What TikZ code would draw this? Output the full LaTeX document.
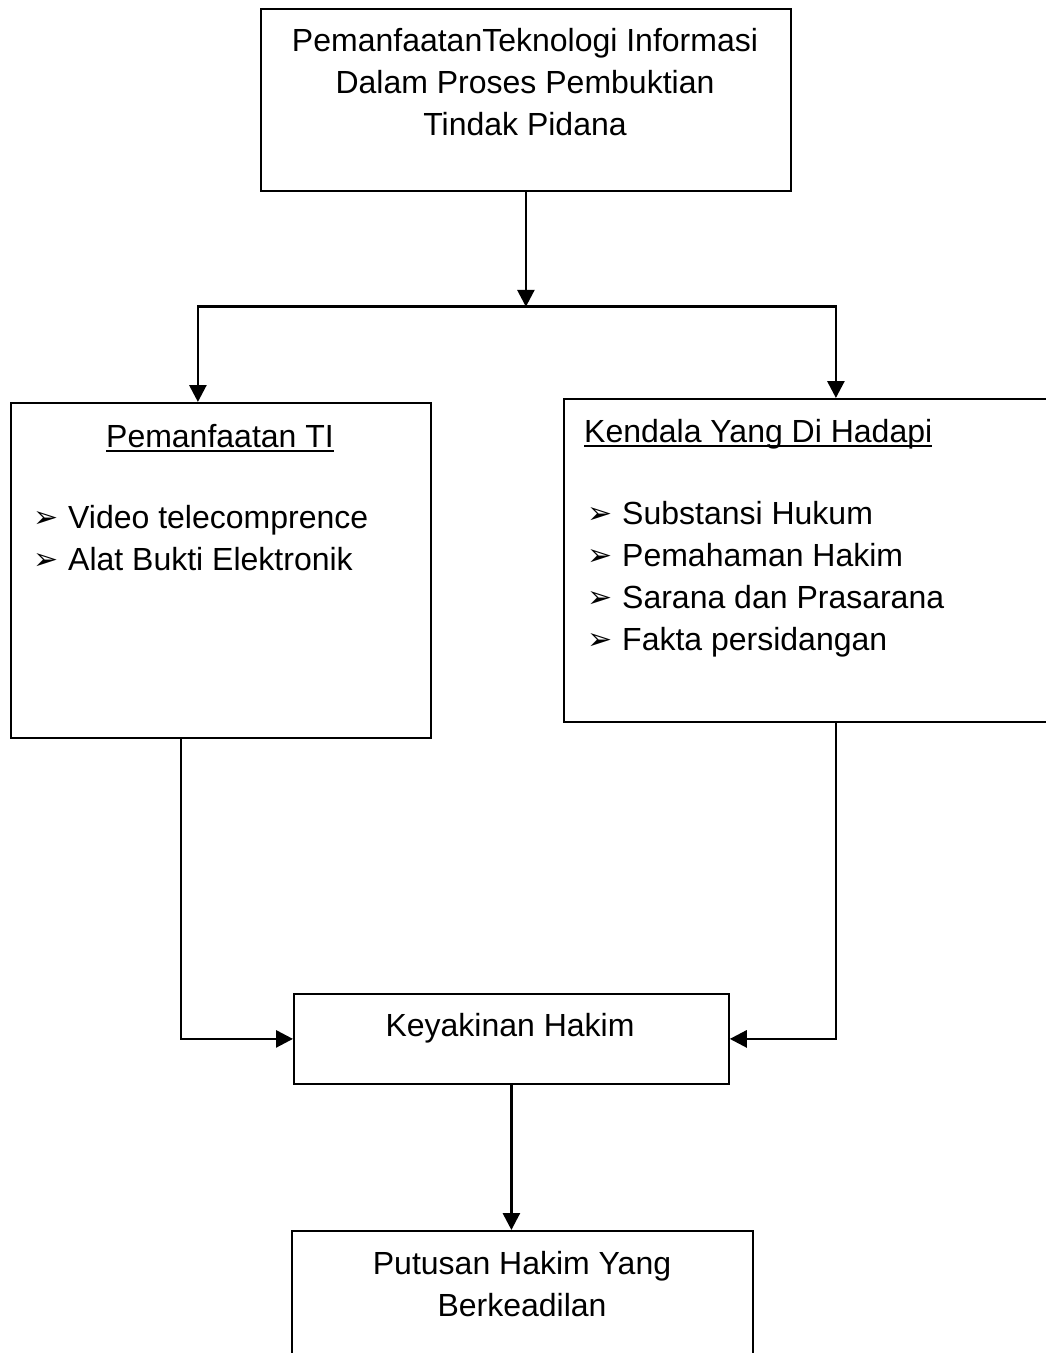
\documentclass[tikz,border=0pt]{standalone}
\usepackage{fontspec}
\setmainfont{Liberation Sans}
\newfontfamily\dingfont{DejaVu Sans}
\usetikzlibrary{arrows.meta,positioning,calc}

\newcommand\ulbox[1]{\setbox0\hbox{#1}\rlap{\rule[-5pt]{\wd0}{2pt}}\box0}

\tikzset{
  box/.style={draw,line width=1.8pt,anchor=north west,inner sep=0},
  txt/.style={font=\fontsize{32}{42}\selectfont,inner sep=0},
  bul/.style={font=\dingfont\fontsize{30}{36}\selectfont,inner sep=0,anchor=base west},
  arr/.style={line width=2.8pt,-{Triangle[length=17pt,width=17pt]}},
}

\begin{document}
\begin{tikzpicture}[x=1pt,y=-1pt]
  \useasboundingbox (0,0) rectangle (1046,1353);
  % boxes
  \node[box,minimum width=530pt,minimum height=182pt] (top) at (260,8) {};
  \node[box,minimum width=420pt,minimum height=335pt] (tibox) at (10,402) {};
  \node[box,minimum width=544pt,minimum height=323pt] (kendbox) at (563,398) {};
  \node[box,minimum width=435pt,minimum height=90pt] (yakin) at (293,993) {};
  \node[box,minimum width=461pt,minimum height=182pt] (putusan) at (291,1230) {};

  % texts
  \foreach \t [count=\i] in {PemanfaatanTeknologi Informasi,Dalam Proses Pembuktian,Tindak Pidana}
    \node[txt,anchor=base] (toptxt\i) at (525,9+42*\i) {\t};
  \node[txt,anchor=base] (tititle) at (220,447) {\ulbox{Pemanfaatan TI}};
  \foreach \t [count=\i] in {Video telecomprence,Alat Bukti Elektronik}{
    \node[bul] (tibul\i) at (33,485+42*\i) {➢};
    \node[txt,anchor=base west] (tiitem\i) at (68,486+42*\i) {\t};
  }
  \node[txt,anchor=base west] (kendtitle) at (584,442) {\ulbox{Kendala Yang Di Hadapi}};
  \foreach \t [count=\i] in {Substansi Hukum,Pemahaman Hakim,Sarana dan Prasarana,Fakta persidangan}{
    \node[bul] (kendbul\i) at (587,481+42*\i) {➢};
    \node[txt,anchor=base west] (kenditem\i) at (622,482+42*\i) {\t};
  }
  \node[txt,anchor=base] (yakintxt) at (510,1036) {Keyakinan Hakim};
  \node[txt,anchor=base] (putusan1) at (522,1274) {Putusan Hakim Yang};
  \node[txt,anchor=base] (putusan2) at (522,1316) {Berkeadilan};

  % connectors
  \coordinate (split) at ($(top.south)+(0,115)$);
  \draw[arr] (top.south) -- (split);
  \draw[arr] (split) -| ([xshift=-23pt]tibox.north);
  \draw[arr] (split) -| (kendbox.north);
  \draw[arr] ([xshift=-40pt]tibox.south) |- (yakin.west);
  \draw[arr] (kendbox.south) |- (yakin.east);
  \draw[arr] (yakin.south) -- (yakin.south |- putusan.north);
\end{tikzpicture}
\end{document}
